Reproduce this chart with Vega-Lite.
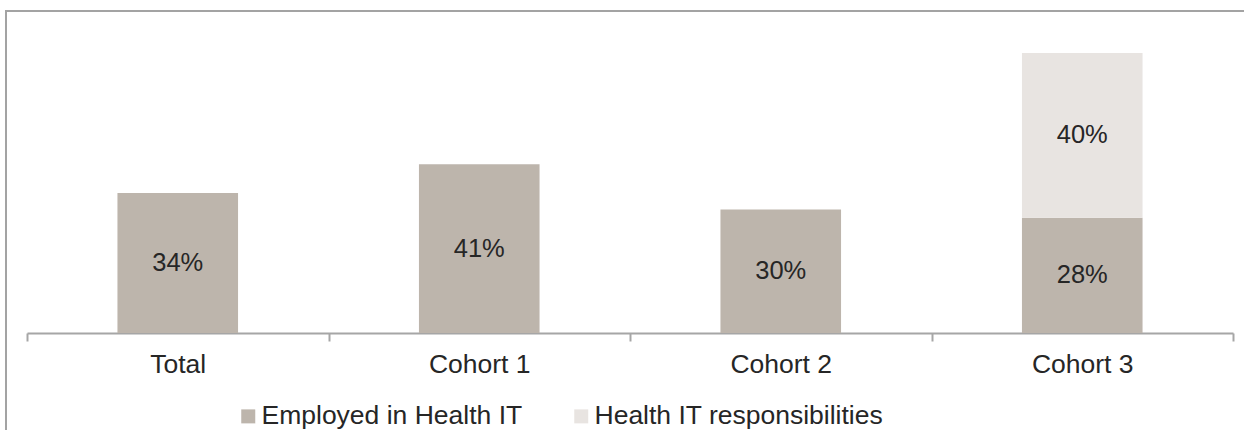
{
  "$schema": "https://vega.github.io/schema/vega-lite/v6.json",
  "width": 1240,
  "height": 423,
  "autosize": {"type": "none"},
  "padding": {"left": 6, "top": 11, "right": -2, "bottom": -4},
  "background": "white",
  "config": {
    "view": {"stroke": "#a3a3a3", "strokeWidth": 2},
    "font": "Liberation Sans"
  },
  "data": {
    "values": [
      {"group": "Total", "series": "Employed in Health IT", "value": 0.34, "order": 1},
      {"group": "Cohort 1", "series": "Employed in Health IT", "value": 0.41, "order": 1},
      {"group": "Cohort 2", "series": "Employed in Health IT", "value": 0.30, "order": 1},
      {"group": "Cohort 3", "series": "Employed in Health IT", "value": 0.28, "order": 1},
      {"group": "Cohort 3", "series": "Health IT responsibilities", "value": 0.40, "order": 2}
    ]
  },
  "encoding": {
    "x": {
      "field": "group",
      "type": "nominal",
      "sort": ["Total", "Cohort 1", "Cohort 2", "Cohort 3"],
      "scale": {"range": [21, 1227], "paddingInner": 0, "paddingOuter": 0},
      "axis": {
        "title": null,
        "labelAngle": 0,
        "offset": -101,
        "domainColor": "#a6a6a6",
        "domainWidth": 2,
        "tickColor": "#a6a6a6",
        "tickWidth": 2,
        "tickSize": 8,
        "tickBand": "extent",
        "labelFontSize": 26.5,
        "labelColor": "#262626",
        "labelPadding": 10,
        "grid": false
      }
    },
    "y": {
      "field": "value",
      "type": "quantitative",
      "stack": "zero",
      "scale": {"domain": [0, 0.782], "range": [322, 0]},
      "axis": null
    },
    "order": {"field": "order", "type": "quantitative"}
  },
  "layer": [
    {
      "mark": {"type": "bar", "width": {"band": 0.4}},
      "encoding": {
        "color": {
          "field": "series",
          "type": "nominal",
          "scale": {
            "domain": ["Employed in Health IT", "Health IT responsibilities"],
            "range": ["#bdb5ac", "#e8e4e1"]
          },
          "legend": {
            "title": null,
            "orient": "none",
            "direction": "horizontal",
            "legendX": 229,
            "legendY": 392,
            "symbolType": "square",
            "symbolSize": 196,
            "symbolStrokeWidth": 0,
            "labelFontSize": 26.5,
            "labelColor": "#262626",
            "labelLimit": 500,
            "labelOffset": 0,
            "columnPadding": 45
          }
        }
      }
    },
    {
      "mark": {"type": "text", "fontSize": 25.5, "color": "#262626", "baseline": "middle"},
      "encoding": {
        "y": {
          "field": "value",
          "type": "quantitative",
          "stack": "zero",
          "bandPosition": 0.5
        },
        "detail": {"field": "series"},
        "text": {"field": "value", "type": "quantitative", "format": ".0%"}
      }
    }
  ]
}
